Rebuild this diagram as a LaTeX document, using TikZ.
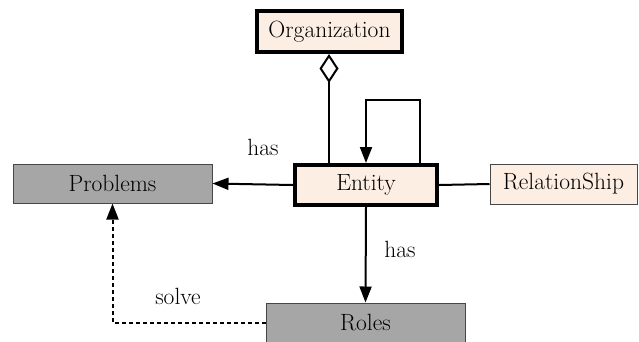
\documentclass[tikz,border=0pt]{standalone}
\usepackage{fontspec}
\usetikzlibrary{arrows.meta}
\definecolor{peach}{RGB}{253,238,227}
\definecolor{boxgray}{RGB}{166,166,166}
\definecolor{edgegray}{RGB}{70,70,70}
\tikzset{
  txt/.style={font=\rmfamily\fontsize{23.5}{27}\selectfont},
  mainbox/.style={txt, draw=black, line width=4pt, fill=peach, inner sep=0pt},
  plainbox/.style={txt, draw=edgegray, line width=1pt, fill=peach, inner sep=0pt},
  graybox/.style={txt, draw=edgegray, line width=1pt, fill=boxgray, inner sep=0pt},
  link/.style={line width=2pt, black},
  tip/.style={-{Triangle[length=16pt,width=12pt]}},
  arr/.style={link, tip},
  lbl/.style={txt, inner sep=0pt}
}
\begin{document}
\begin{tikzpicture}[x=1pt,y=-1pt]
\useasboundingbox (0,0) rectangle (639,341);
\fill[white] (0,0) rectangle (639,341);

% classes
\node[mainbox, minimum width=145pt, minimum height=41pt] (org) at (329.5,31.5) {Organization};
\node[mainbox, minimum width=142pt, minimum height=40pt] (entity) at (366,185) {Entity};
\node[graybox, minimum width=199pt, minimum height=39pt] (problems) at (112.5,183.5) {Problems};
\node[plainbox, minimum width=147pt, minimum height=40pt] (rel) at (563.5,184) {RelationShip};
\node[graybox, minimum width=199pt, minimum height=40pt] (roles) at (365.5,323) {Roles};

% aggregation
\coordinate (aggfoot) at (329,165);
\draw[link, -{Diamond[open, length=29pt, width=19pt, line width=2pt]}] (aggfoot) -- (aggfoot |- org.south);

% self association
\coordinate (loopstart) at (420,165);
\draw[arr] (loopstart) -- (420,100) -| (entity.north);

% associations
\draw[arr] (entity.west) -- (problems.east);
\draw[link] (entity.east) -- (rel.west);
\draw[arr] (entity.south) -- (roles.north);
\draw[link, dash pattern=on 4pt off 3pt, tip] (roles.west) -| (problems.south);

% labels
\node[lbl] (lhas1) at (263,147) {has};
\node[lbl] (lhas2) at (400,249) {has};
\node[lbl] (lsolve) at (178,296) {solve};
\end{tikzpicture}
\end{document}
